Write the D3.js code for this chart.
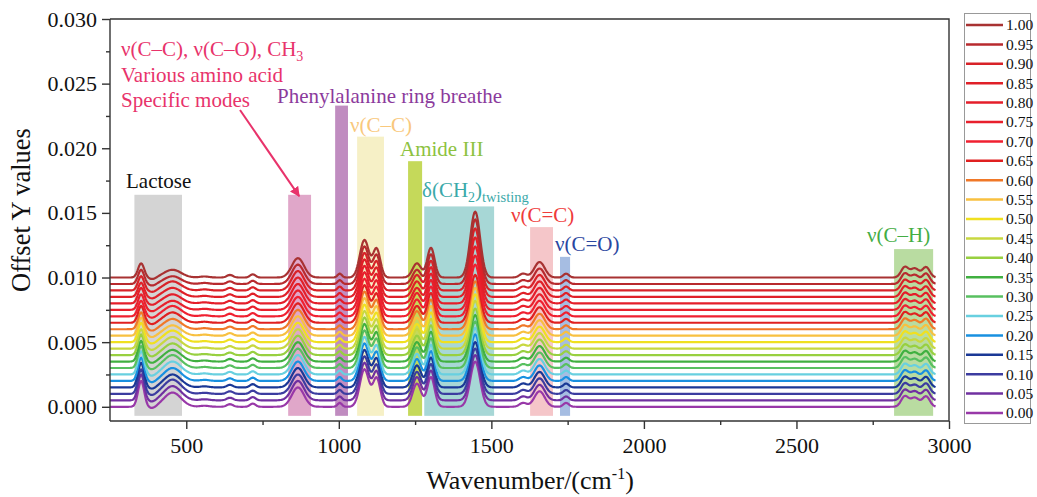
<!DOCTYPE html>
<html>
<head>
<meta charset="utf-8">
<script src="https://cdn.jsdelivr.net/npm/d3@7"></script>
<style>
  html, body { margin: 0; padding: 0; background: #fff; }
  svg { display: block; font-family: "Liberation Serif", "Times New Roman", serif; }
</style>
</head>
<body>
<svg id="chart" width="1037" height="497"></svg>
<script>
// ── Data ──────────────────────────────────────────────────────────────────
var levels = [0.00, 0.05, 0.10, 0.15, 0.20, 0.25, 0.30, 0.35, 0.40, 0.45, 0.50,
              0.55, 0.60, 0.65, 0.70, 0.75, 0.80, 0.85, 0.90, 0.95, 1.00];
var levelColors = ["#9838a8", "#7030a0", "#3c3ca0", "#1a3896", "#1890e0", "#68d0e0",
                   "#58c060", "#40b040", "#98d040", "#c8d840", "#f0e020", "#f8c040",
                   "#f07828", "#e02020", "#f02030", "#e8202c", "#e41e2a", "#e02028",
                   "#d82228", "#b82a2e", "#a83232"];

// Raman bands (cm-1), their widths and heights shared by all spectra
var peakCenters = [352, 390, 455, 560, 643, 718, 866, 1003, 1084, 1124, 1256, 1302, 1447, 1604, 1658, 1745, 2855, 2888, 2925];
var peakWidths  = [10, 12, 28, 15, 10, 9, 20, 7, 15, 12, 14, 12, 16, 12, 17, 9, 12, 14, 12];
var peakHeights = [0, -0.00015, 0, 0.00008, 0.0002, 0.00025, 0.0015, 0.0003, 0.0029, 0.0022, 0, 0.0023, 0, 0.0003, 0.0012, 0.0003, 0.0008, 0.0007, 0.0008];

// bands whose height changes from spectrum to spectrum (index = level)
var h352  = [0.0020, 0.0020, 0.0019, 0.0019, 0.0018, 0.0018, 0.0017, 0.0016, 0.0016, 0.0015, 0.0015,
             0.0014, 0.0013, 0.0013, 0.0012, 0.0012, 0.0012, 0.0011, 0.0011, 0.0011, 0.0011];
var h455  = [0.0011, 0.0011, 0.0011, 0.0010, 0.0010, 0.0010, 0.0010, 0.0009, 0.0009, 0.0009, 0.0009,
             0.0008, 0.0008, 0.0008, 0.0008, 0.0007, 0.0007, 0.0007, 0.0007, 0.0006, 0.0006];
var h1256 = [0.0018, 0.0018, 0.0017, 0.0017, 0.0017, 0.0016, 0.0016, 0.0015, 0.0015, 0.0015, 0.0014,
             0.0014, 0.0014, 0.0013, 0.0013, 0.0013, 0.0012, 0.0012, 0.0012, 0.0011, 0.0011];
var h1447 = [0.0035, 0.0035, 0.0035, 0.0035, 0.0036, 0.0036, 0.0036, 0.0036, 0.0036, 0.0037, 0.0037,
             0.0037, 0.0037, 0.0037, 0.0040, 0.0042, 0.0044, 0.0046, 0.0048, 0.0050, 0.0051];

// highlighted regions
var bandNames  = ["Lactose", "amino", "phenyl", "cc", "amide", "ch2", "c=c", "c=o", "ch"];
var bandStart  = [330, 834, 988, 1060, 1227, 1280, 1627, 1725, 2820];
var bandEnd    = [486, 909, 1030, 1148, 1273, 1509, 1702, 1758, 2948];
var bandTop    = [0.0164, 0.0164, 0.0233, 0.0209, 0.0190, 0.0155, 0.0139, 0.0116, 0.0122];
var bandColors = ["#d4d4d4", "#e0a7c9", "#c08cc0", "#f6f0c6", "#c5d95a", "#a7d7d6", "#f5c6c9", "#a6bde2", "#b9dca1"];

var xTicks = [500, 1000, 1500, 2000, 2500, 3000];
var yTicks = [0.000, 0.005, 0.010, 0.015, 0.020, 0.025, 0.030];

// ── Scales ────────────────────────────────────────────────────────────────
var svg = d3.select("#chart");
var x = d3.scaleLinear().domain([250, 3000]).range([110, 949]);
var y = d3.scaleLinear().domain([-0.0011, 0.030]).range([421, 19]);

var FONT = "Liberation Serif, Times New Roman, serif";

// ── Build spectra ─────────────────────────────────────────────────────────
var grid = d3.range(250, 2958, 3);
var spectra = levels.map(function (lv, i) {
  var hs = peakHeights.slice();
  hs[0] = h352[i]; hs[2] = h455[i]; hs[10] = h1256[i]; hs[12] = h1447[i];
  var pts = grid.map(function (w) {
    var s = 0;
    for (var k = 0; k < peakCenters.length; k++) {
      var d = w - peakCenters[k];
      s += hs[k] * Math.exp(-d * d / (2 * peakWidths[k] * peakWidths[k]));
    }
    return [w, lv * 0.01 + s];
  });
  return { level: lv, color: levelColors[i], pts: pts };
});

// ── Highlight bands ───────────────────────────────────────────────────────
svg.append("g").selectAll("rect")
  .data(bandNames)
  .join("rect")
    .attr("x", function (d, i) { return x(bandStart[i]); })
    .attr("width", function (d, i) { return x(bandEnd[i]) - x(bandStart[i]); })
    .attr("y", function (d, i) { return y(bandTop[i]); })
    .attr("height", function (d, i) { return y(-0.0007) - y(bandTop[i]); })
    .attr("fill", function (d, i) { return bandColors[i]; });

// ── Spectra lines ─────────────────────────────────────────────────────────
var line = d3.line().x(function (d) { return x(d[0]); }).y(function (d) { return y(d[1]); });
svg.append("g").selectAll("path")
  .data(spectra)
  .join("path")
    .attr("d", function (d) { return line(d.pts); })
    .attr("fill", "none")
    .attr("stroke", function (d) { return d.color; })
    .attr("stroke-width", 2.2)
    .attr("stroke-linejoin", "round");

// ── Axes ──────────────────────────────────────────────────────────────────
var xAxis = svg.append("g").attr("transform", "translate(0,421)")
  .call(d3.axisBottom(x).tickValues(xTicks).tickSize(8).tickPadding(8).tickFormat(d3.format("d")));
svg.append("g").attr("transform", "translate(0,421)")
  .call(d3.axisBottom(x).tickValues([750, 1250, 1750, 2250, 2750]).tickSize(4).tickFormat(""))
  .select(".domain").remove();
var yAxis = svg.append("g").attr("transform", "translate(110,0)")
  .call(d3.axisLeft(y).tickValues(yTicks).tickSize(8).tickPadding(5).tickFormat(d3.format(".3f")));
svg.append("g").attr("transform", "translate(110,0)")
  .call(d3.axisLeft(y).tickValues([0.0025, 0.0075, 0.0125, 0.0175, 0.0225, 0.0275]).tickSize(4).tickFormat(""))
  .select(".domain").remove();

svg.selectAll(".domain, .tick line").attr("stroke", "#333").attr("stroke-width", 1.4);
svg.selectAll(".tick text").attr("font-family", FONT).attr("font-size", 22).attr("fill", "#111");
xAxis.select(".domain").attr("d", "M110,0H949");
yAxis.select(".domain").attr("d", "M0,421V19");

// frame top / right
svg.append("path").attr("d", "M110,19H949V421").attr("fill", "none")
  .attr("stroke", "#333").attr("stroke-width", 1.4);

// axis titles
svg.append("text")
  .attr("transform", "translate(30,210) rotate(-90)")
  .attr("text-anchor", "middle")
  .attr("font-family", FONT).attr("font-size", 26.5).attr("fill", "#111")
  .text("Offset Y values");
var xt = svg.append("text")
  .attr("x", 530).attr("y", 489)
  .attr("text-anchor", "middle")
  .attr("font-family", FONT).attr("font-size", 26).attr("fill", "#111");
xt.append("tspan").text("Wavenumber/(cm");
xt.append("tspan").attr("font-size", 16).attr("dy", -10).text("-1");
xt.append("tspan").attr("dy", 10).text(")");

// ── Annotations (pixel layout) ────────────────────────────────────────────
function label(px, py, color, size) {
  return svg.append("text").attr("x", px).attr("y", py)
    .attr("font-family", FONT).attr("font-size", size || 21).attr("fill", color);
}
label(126, 188, "#111").text("Lactose");
var t1 = label(121, 56, "#e8336b");
t1.append("tspan").text("\u03bd(C\u2013C), \u03bd(C\u2013O), CH");
t1.append("tspan").attr("font-size", 14).attr("dy", 5).text("3");
label(121, 82, "#e8336b").text("Various amino acid");
label(121, 107, "#e8336b").text("Specific modes");
label(277, 103, "#8b3a9c").text("Phenylalanine ring breathe");
label(350, 132, "#f9c87c").text("\u03bd(C\u2013C)");
label(400, 156, "#8dc23f").text("Amide III");
var t2 = label(422, 197, "#3aa9a9");
t2.append("tspan").text("\u03b4(CH");
t2.append("tspan").attr("font-size", 14).attr("dy", 5).text("2");
t2.append("tspan").attr("dy", -5).text(")");
t2.append("tspan").attr("font-size", 14.5).attr("dy", 5).text("twisting");
label(511, 222, "#ef3b3b").text("\u03bd(C=C)");
label(555, 251, "#2a46a0").text("\u03bd(C=O)");
label(867, 242, "#44ad44").text("\u03bd(C\u2013H)");

// arrow to the amino acid band
svg.append("defs").append("marker")
  .attr("id", "ah").attr("viewBox", "0 0 10 10").attr("refX", 9).attr("refY", 5)
  .attr("markerWidth", 5).attr("markerHeight", 5).attr("orient", "auto")
  .append("path").attr("d", "M0,0L10,5L0,10Z").attr("fill", "#e8336b");
svg.append("line")
  .attr("x1", 240).attr("y1", 110).attr("x2", x(870)).attr("y2", y(0.0163))
  .attr("stroke", "#e8336b").attr("stroke-width", 2).attr("marker-end", "url(#ah)");

// ── Legend ────────────────────────────────────────────────────────────────
svg.append("rect").attr("x", 964.5).attr("y", 13.5).attr("width", 66).attr("height", 410)
  .attr("fill", "#fff").attr("stroke", "#999").attr("stroke-width", 1);
var legendItems = levels.slice().reverse();
var lg = svg.append("g").selectAll("g")
  .data(legendItems)
  .join("g")
    .attr("transform", function (d, i) { return "translate(0," + (25 + i * 19.4) + ")"; });
lg.append("line").attr("x1", 966).attr("x2", 1003)
  .attr("stroke", function (d) { return levelColors[levels.indexOf(d)]; })
  .attr("stroke-width", 2.5);
lg.append("text").attr("x", 1006).attr("dy", "0.35em")
  .attr("font-family", FONT).attr("font-size", 15.5).attr("fill", "#111")
  .text(function (d) { return d3.format(".2f")(d); });
</script>
</body>
</html>
